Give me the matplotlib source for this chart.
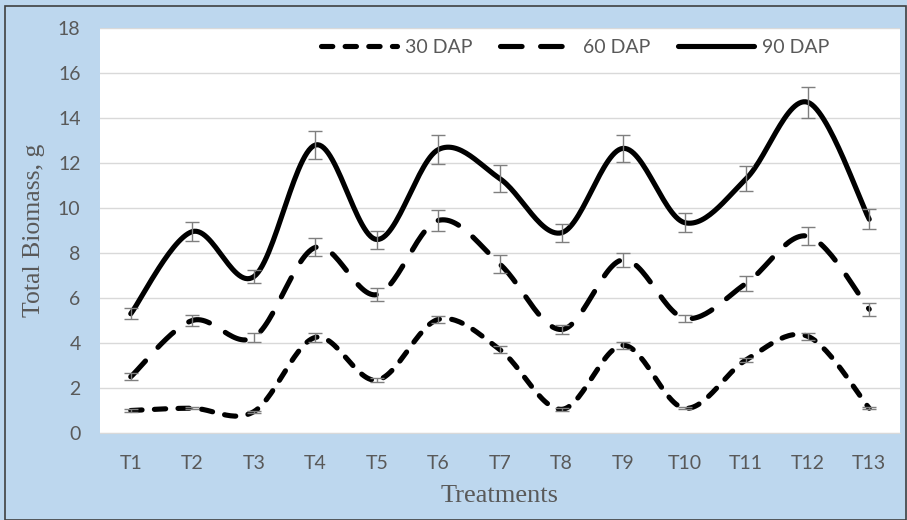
import numpy as np
import matplotlib
matplotlib.use("Agg")
import matplotlib.pyplot as plt
from matplotlib.patches import Rectangle

treatments = ["T1", "T2", "T3", "T4", "T5", "T6", "T7", "T8", "T9", "T10", "T11", "T12", "T13"]

dap30 = [1.0, 1.1, 0.95, 4.25, 2.35, 5.05, 3.7, 1.05, 3.9, 1.1, 3.25, 4.3, 1.1]
dap30_err = [0.05, 0.05, 0.05, 0.2, 0.1, 0.15, 0.15, 0.05, 0.15, 0.05, 0.1, 0.15, 0.05]

dap60 = [2.5, 5.0, 4.25, 8.25, 6.15, 9.45, 7.5, 4.6, 7.7, 5.1, 6.65, 8.75, 5.5]
dap60_err = [0.15, 0.25, 0.2, 0.4, 0.3, 0.45, 0.4, 0.2, 0.3, 0.15, 0.35, 0.4, 0.3]

dap90 = [5.3, 8.95, 6.95, 12.8, 8.6, 12.6, 11.3, 8.9, 12.65, 9.35, 11.3, 14.7, 9.5]
dap90_err = [0.25, 0.42, 0.3, 0.64, 0.4, 0.64, 0.6, 0.4, 0.6, 0.42, 0.55, 0.7, 0.45]


def smooth(x, y, n=30):
    # Excel-style smoothed line (Catmull-Rom Bezier)
    x = np.asarray(x, float)
    y = np.asarray(y, float)
    p = np.column_stack([x, y])
    pts = []
    for i in range(len(p) - 1):
        p0 = p[i - 1] if i > 0 else p[i]
        p1, p2 = p[i], p[i + 1]
        p3 = p[i + 2] if i + 2 < len(p) else p[i + 1]
        b1 = p1 + (p2 - p0) / 6
        b2 = p2 - (p3 - p1) / 6
        t = np.linspace(0, 1, n)[:, None]
        seg = ((1 - t) ** 3) * p1 + 3 * ((1 - t) ** 2) * t * b1 + 3 * (1 - t) * t ** 2 * b2 + t ** 3 * p2
        pts.append(seg if i == 0 else seg[1:])
    pts = np.vstack(pts)
    return pts[:, 0], pts[:, 1]


bg = "#BDD7EE"
txt = "#595959"
sans = ["Lato", "DejaVu Sans"]
serif = ["Liberation Serif", "DejaVu Serif"]

fig = plt.figure(figsize=(9.07, 5.2), dpi=100, facecolor=bg)
ax = fig.add_axes([100 / 907, 87 / 520, 800 / 907, 405 / 520])
ax.set_facecolor("white")

x = np.arange(len(treatments))
series = [
    ("30 DAP", dap30, dap30_err, (2.2, 2.4)),
    ("60 DAP", dap60, dap60_err, (4.2, 3.6)),
    ("90 DAP", dap90, dap90_err, None),
]
for name, vals, err, dash in series:
    sx, sy = smooth(x, vals)
    line, = ax.plot(sx, sy, color="black", lw=3.7, label=name,
                    solid_capstyle="round", dash_capstyle="round", zorder=3)
    if dash is not None:
        line.set_dashes(dash)
    ax.errorbar(x, vals, yerr=err, fmt="none", ecolor="#7F7F7F",
                elinewidth=1, capsize=5, capthick=1, zorder=4)

ax.set_xlim(-0.5, len(treatments) - 0.5)
ax.set_ylim(0, 18)
ax.set_yticks(range(0, 19, 2))
ax.set_xticks(x)
ax.set_xticklabels(treatments)
ax.yaxis.grid(True, color="#D9D9D9", lw=1)
ax.set_axisbelow(True)
for s in ["top", "right", "left"]:
    ax.spines[s].set_visible(False)
ax.spines["bottom"].set_color("#D9D9D9")
ax.tick_params(axis="both", length=0, colors=txt, labelsize=14)
ax.tick_params(axis="x", pad=16)
ax.tick_params(axis="y", pad=14)
for lab in ax.get_xticklabels() + ax.get_yticklabels():
    lab.set_family(sans)

ax.set_xlabel("Treatments", family=serif, fontsize=19, color=txt, labelpad=9)
ax.set_ylabel("Total Biomass, g", family=serif, fontsize=18.5, color=txt, labelpad=9)

leg = ax.legend(loc="center", bbox_to_anchor=(0.594, 0.953), ncol=3, frameon=False,
                handlelength=3.9, handletextpad=0.4, columnspacing=1.4,
                prop={"family": sans, "size": 14})
for t in leg.get_texts():
    t.set_color(txt)

fig.patches.append(Rectangle((5 / 907, 0), 901 / 907, 514 / 520, transform=fig.transFigure,
                             fill=False, edgecolor="#404040", lw=1.2))

fig.savefig("out.png", dpi=100, facecolor=bg)
